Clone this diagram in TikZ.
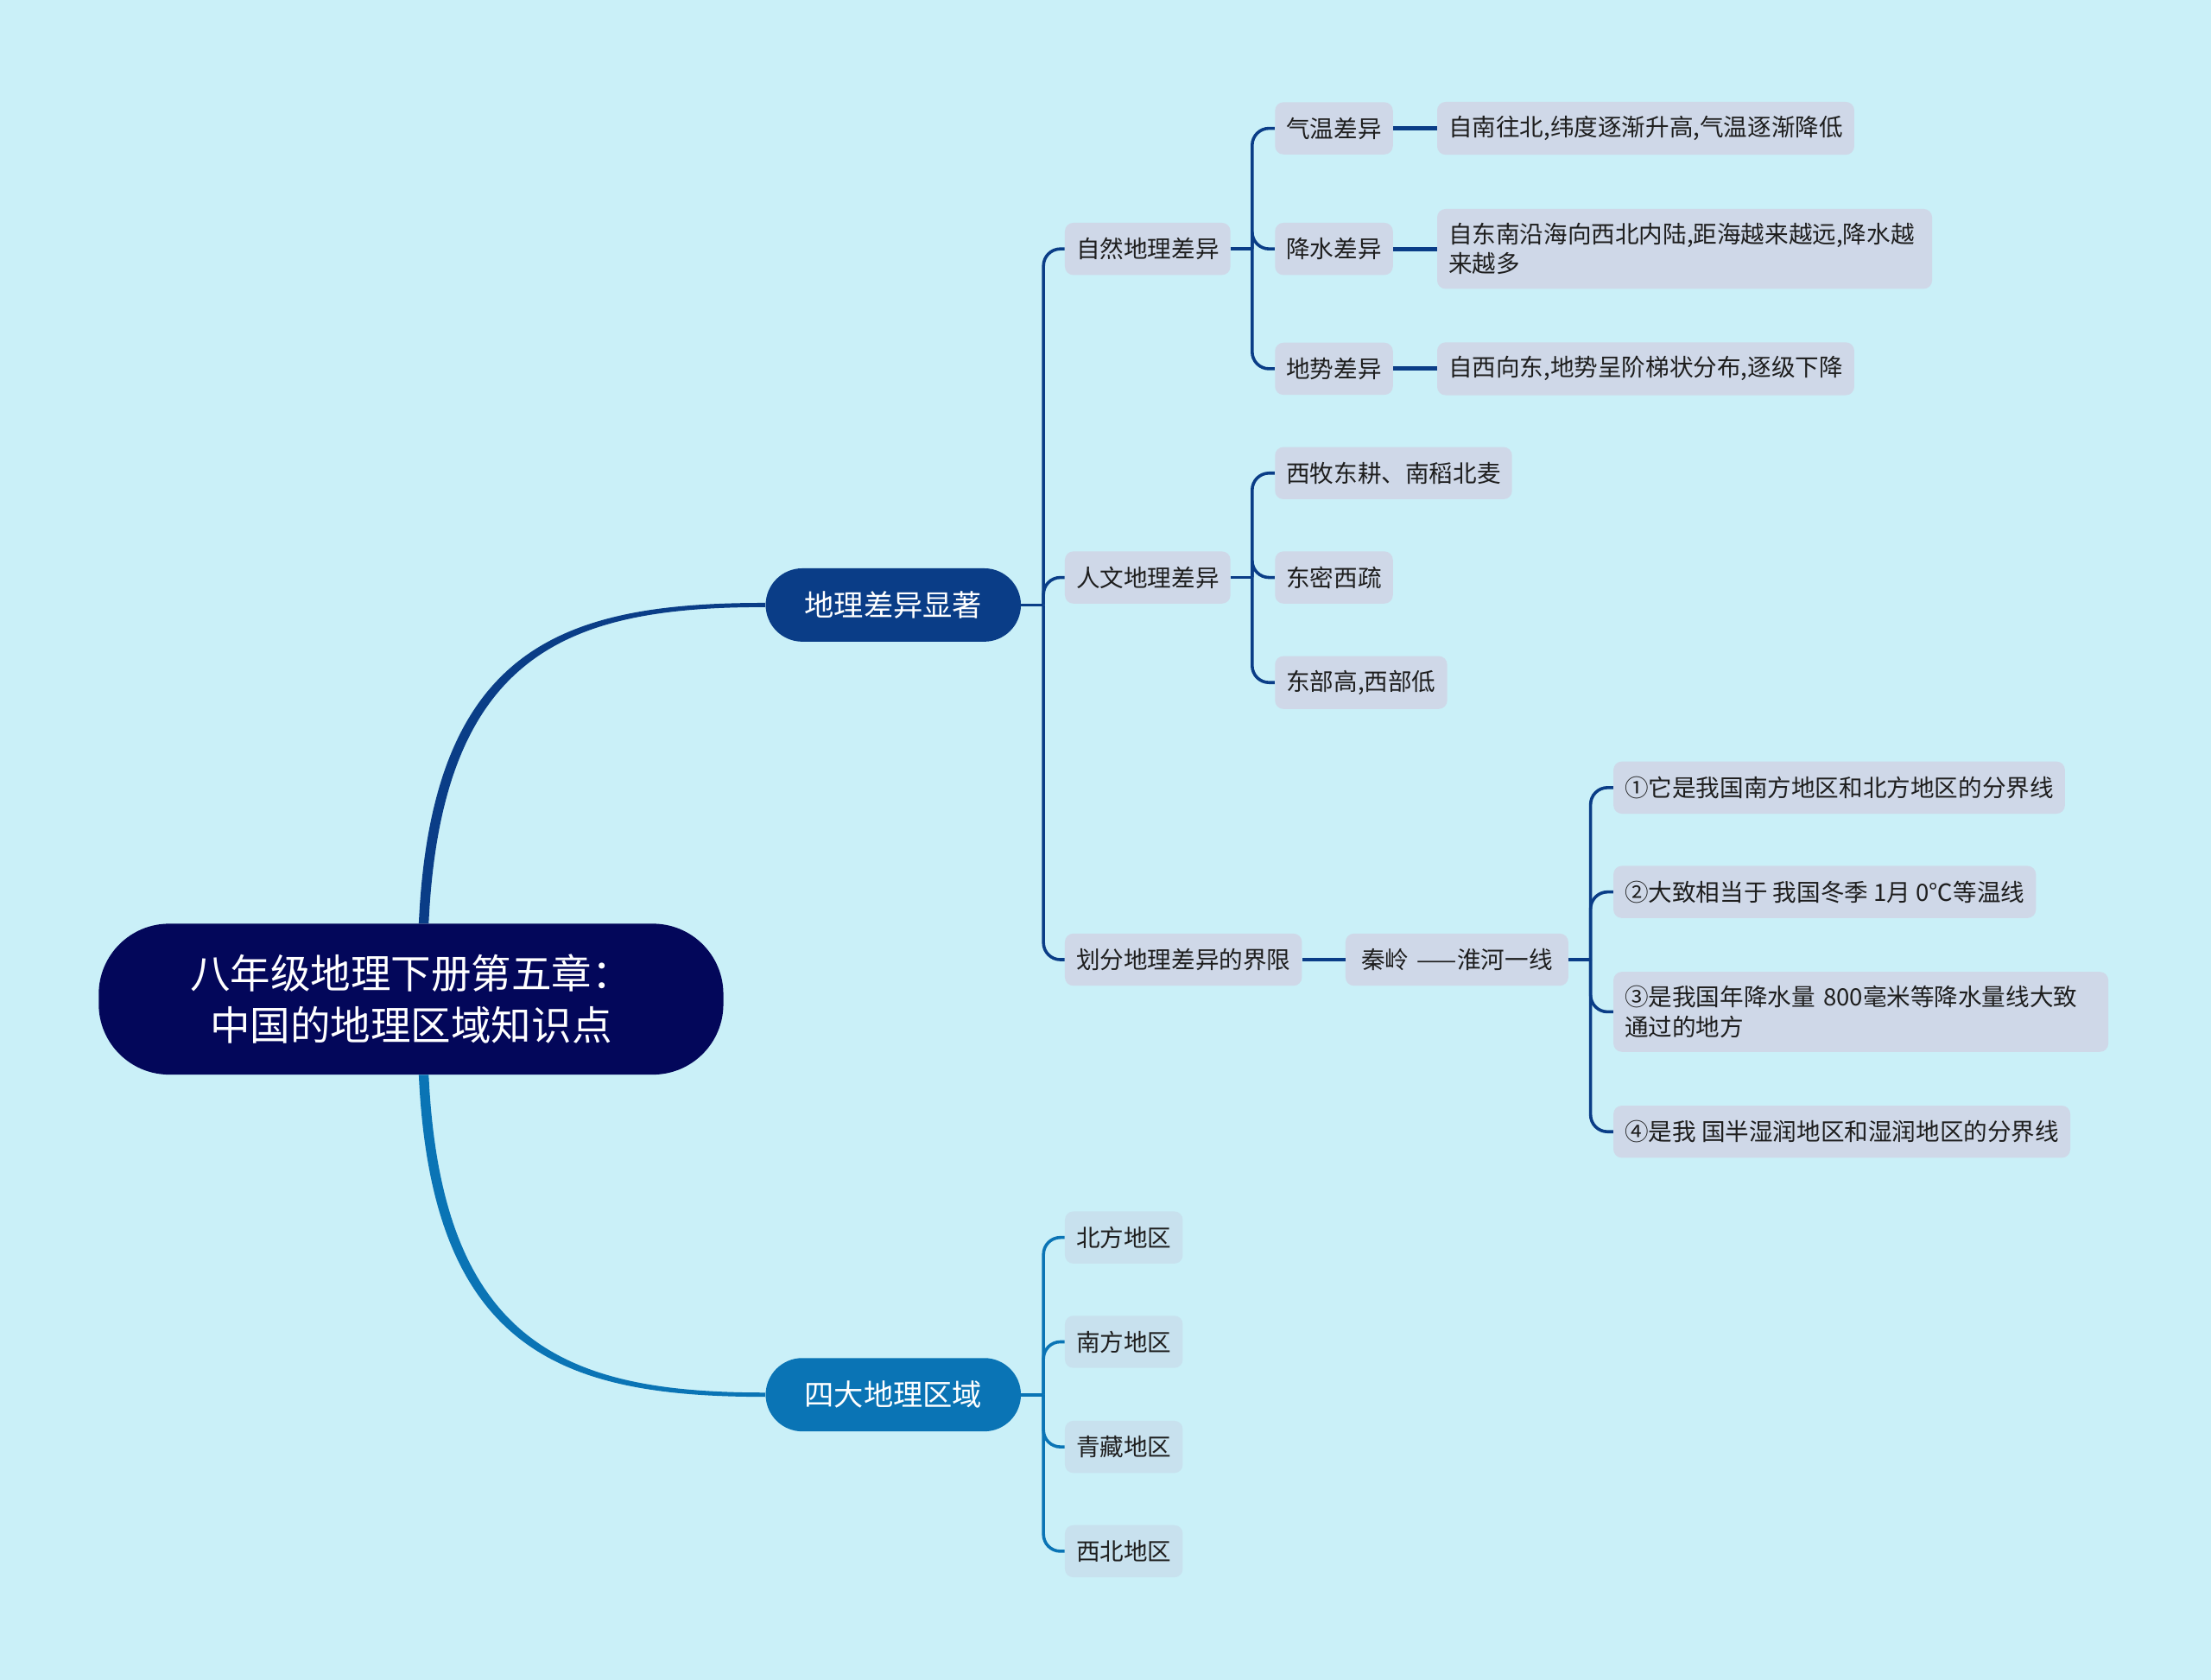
\documentclass[tikz,border=0pt]{standalone}
\usepackage{fontspec}
\setmainfont{Noto Sans CJK SC}
\definecolor{bgcyan}{HTML}{CAF0F8}
\definecolor{rootnavy}{HTML}{03075A}
\definecolor{diffblue}{HTML}{0A3D87}
\definecolor{regblue}{HTML}{0A74B5}
\definecolor{boxgray}{HTML}{CFD8E8}
\definecolor{boxcyan}{HTML}{C8E1EE}
\definecolor{inktext}{HTML}{1E1E1E}

\tikzset{
  rootnode/.style={fill=rootnavy, text=white, rounded corners=50pt, minimum width=443pt, minimum height=107pt, align=center, font=\fontsize{28.5}{37}\selectfont},
  mainnode/.style={text=white, rounded corners=26pt, minimum width=181pt, minimum height=52pt, font=\fontsize{21}{25}\selectfont},
  leafbox/.style={fill=boxgray, text=inktext, rounded corners=6pt, minimum height=37pt, inner xsep=8pt, inner ysep=10pt, anchor=west, font=\fontsize{16.9}{21}\selectfont},
  difflink/.style={draw=diffblue, line width=2.2pt, rounded corners=12pt},
  reglink/.style={draw=regblue, line width=2.2pt, rounded corners=12pt},
}

\begin{document}
\begin{tikzpicture}[x=1pt,y=-1pt]
\useasboundingbox (0,0) rectangle (1568,1191);
\fill[bgcyan] (0,0) rectangle (1568,1191);

% root and the two main branches
\node[rootnode] (root) at (291.5,708.5) {八年级地理下册第五章：\\中国的地理区域知识点};
\node[mainnode, fill=diffblue] (diff) at (633.5,429) {地理差异显著};
\node[mainnode, fill=regblue] (regions) at (633.5,989) {四大地理区域};

\fill[diffblue] ([xshift=5.5pt]root.north) .. controls +(9,-197) and +(-143,0) .. ([yshift=1.5pt]diff.west) -- ([yshift=-1.5pt]diff.west) .. controls +(-139,0) and +(9,-193) .. ([xshift=12.5pt]root.north) -- cycle;
\fill[regblue] ([xshift=5.5pt]root.south) .. controls +(9,197) and +(-143,0) .. ([yshift=-1.5pt]regions.west) -- ([yshift=1.5pt]regions.west) .. controls +(-139,0) and +(9,193) .. ([xshift=12.5pt]root.south) -- cycle;

% hubs of the brackets
\coordinate (diffhub) at (740,429);
\coordinate (nathub) at (888,176.5);
\coordinate (humhub) at (888,409.5);
\coordinate (qlhub) at (1128,680.5);
\coordinate (reghub) at (740,989);

% 地理差异显著
\node[leafbox] (nat) at (755,176.5) {自然地理差异};
\node[leafbox] (hum) at (755,409.5) {人文地理差异};
\node[leafbox] (bound) at (755,680.5) {划分地理差异的界限};

\node[leafbox] (temp) at (904,91) {气温差异};
\node[leafbox] (rain) at (904,176.5) {降水差异};
\node[leafbox] (terr) at (904,261.5) {地势差异};
\node[leafbox] (tempd) at (1019,91) {自南往北,纬度逐渐升高,气温逐渐降低};
\node[leafbox, text width=335pt, align=left] (raind) at (1019,176.5) {自东南沿海向西北内陆,距海越来越远,降水越\\来越多};
\node[leafbox] (terrd) at (1019,261.5) {自西向东,地势呈阶梯状分布,逐级下降};

\node[leafbox] (h1) at (904,335.5) {西牧东耕、南稻北麦};
\node[leafbox] (h2) at (904,409.5) {东密西疏};
\node[leafbox] (h3) at (904,484) {东部高,西部低};

\node[leafbox, minimum width=158pt] (ql) at (954,680.5) {秦岭\hspace{0.35em}——淮河一线};
\node[leafbox] (q1) at (1144,558.5) {①它是我国南方地区和北方地区的分界线};
\node[leafbox] (q2) at (1144,632.5) {②大致相当于 我国冬季 1月 0℃等温线};
\node[leafbox, text width=335pt, align=left] (q3) at (1144,717.5) {③是我国年降水量 800毫米等降水量线大致\\通过的地方};
\node[leafbox] (q4) at (1144,802.5) {④是我 国半湿润地区和湿润地区的分界线};

% 四大地理区域
\node[leafbox, fill=boxcyan] (r1) at (755,877.5) {北方地区};
\node[leafbox, fill=boxcyan] (r2) at (755,951.5) {南方地区};
\node[leafbox, fill=boxcyan] (r3) at (755,1026) {青藏地区};
\node[leafbox, fill=boxcyan] (r4) at (755,1100) {西北地区};

% connectors
\draw[difflink] (diff.east) -- (diffhub);
\foreach \c in {nat,hum,bound} \draw[difflink] (diffhub) |- (\c.west);
\draw[difflink] (nat.east) -- (nathub);
\foreach \c in {temp,rain,terr} \draw[difflink] (nathub) |- (\c.west);
\draw[difflink, line width=3pt] (temp.east) -- (tempd.west);
\draw[difflink, line width=3pt] (rain.east) -- (raind.west);
\draw[difflink, line width=3pt] (terr.east) -- (terrd.west);
\draw[difflink] (hum.east) -- (humhub);
\foreach \c in {h1,h2,h3} \draw[difflink] (humhub) |- (\c.west);
\draw[difflink, line width=3pt] (bound.east) -- (ql.west);
\draw[difflink] (ql.east) -- (qlhub);
\foreach \c in {q1,q2,q3,q4} \draw[difflink] (qlhub) |- (\c.west);
\draw[reglink] (regions.east) -- (reghub);
\foreach \c in {r1,r2,r3,r4} \draw[reglink] (reghub) |- (\c.west);
\end{tikzpicture}
\end{document}
